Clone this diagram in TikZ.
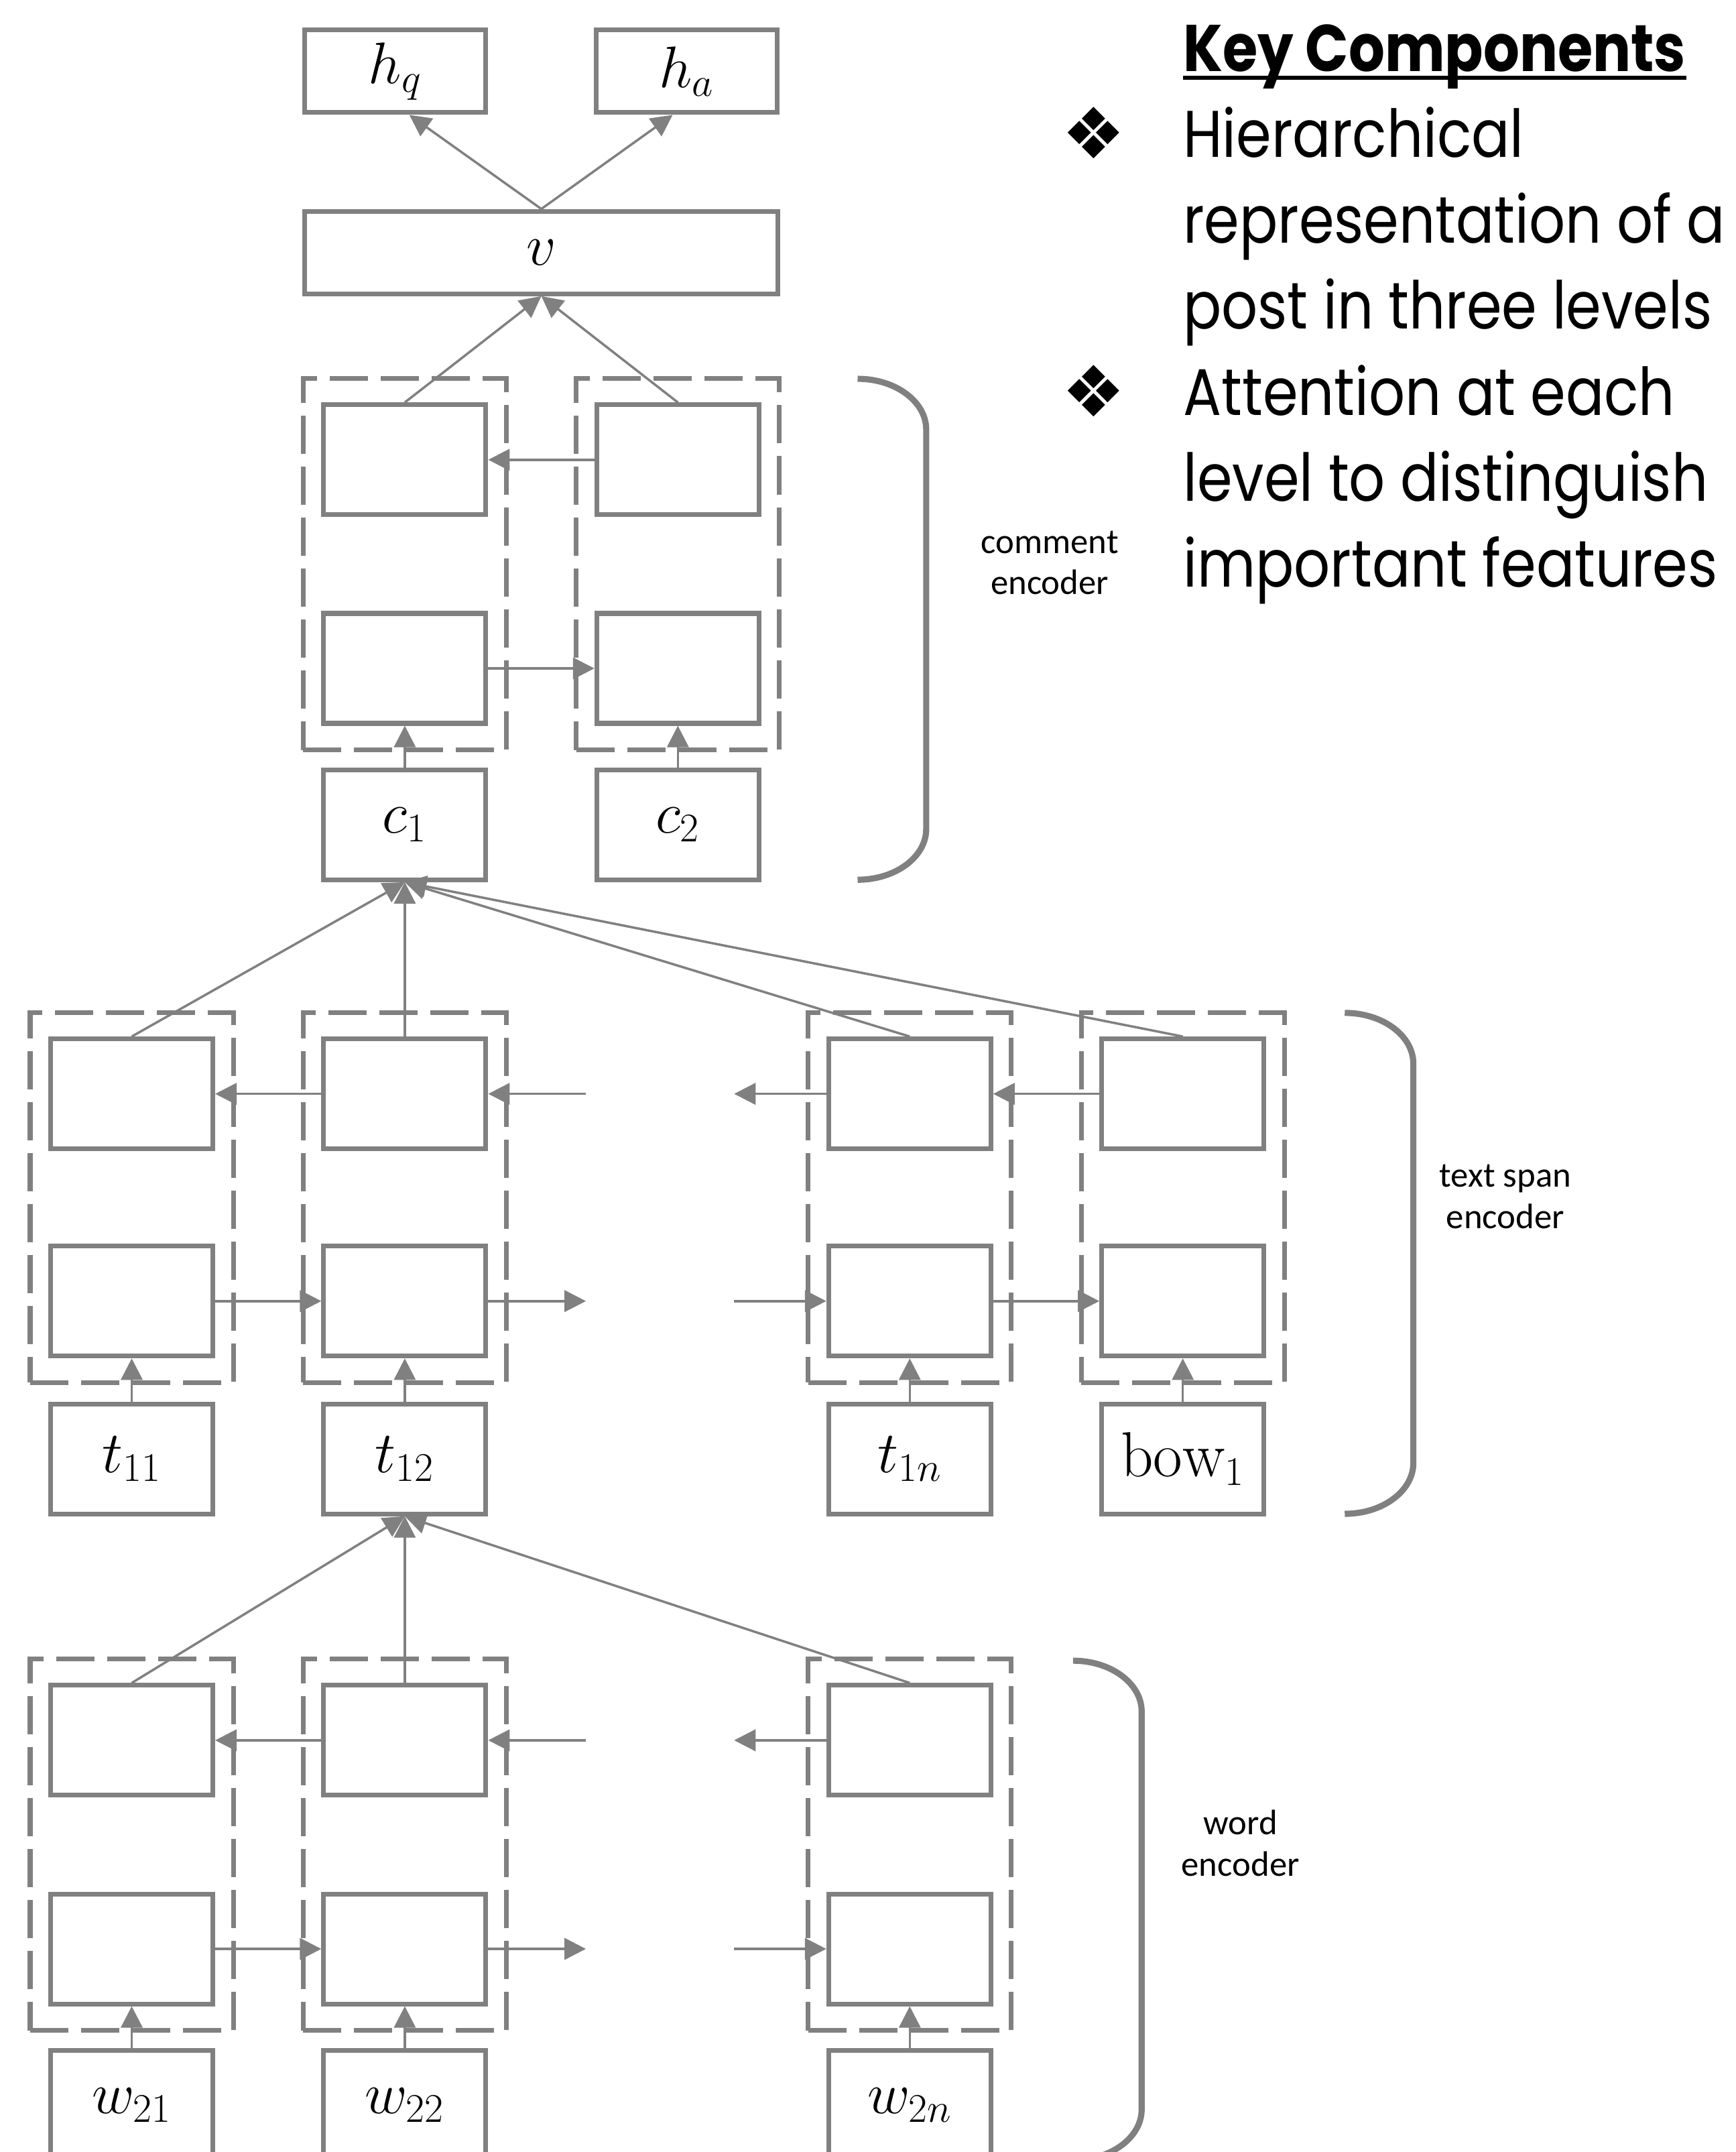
\documentclass[tikz,border=0pt]{standalone}
\usepackage{fontspec}
\usepackage{amsmath}
\usepackage{xcolor}
\usetikzlibrary{arrows.meta,fit,positioning}

\newfontfamily\keyfont[FakeStretch=0.86]{Poppins}
\newfontfamily\labelfont{Carlito}
\newfontfamily\markfont{DejaVu Sans}
\definecolor{linegray}{HTML}{808080}

\tikzset{
  cell/.style={draw=linegray, line width=2pt, minimum width=2.42cm, minimum height=1.64cm,
    inner sep=0pt, font=\fontsize{27}{32}\selectfont},
  wrap/.style={draw=linegray, line width=2pt, dash pattern=on 0.57cm off 0.19cm,
    inner xsep=0.27cm, inner ysep=0.36cm},
  link/.style={draw=linegray, line width=1pt, -{Triangle[length=0.32cm,width=0.32cm]}},
  brace/.style={draw=linegray, line width=2.6pt},
  enclabel/.style={align=center, font=\labelfont\fontsize{15}{17.5}\selectfont},
  keytext/.style={inner sep=0pt, anchor=base west, font=\keyfont\fontsize{28}{34}\selectfont},
  keymark/.style={inner sep=0pt, font=\markfont\fontsize{30}{34}\selectfont}
}

\begin{document}
\begin{tikzpicture}[x=0.2047cm, y=-0.2047cm]
  \useasboundingbox (0,0) rectangle (126.5,156.8);
  \clip (0,0) rectangle (126.5,156.8);

  % output layer
  \node[cell, minimum width=2.70cm, minimum height=1.23cm] (hq) at (28.8,5.2) {$h_q$};
  \node[cell, minimum width=2.70cm, minimum height=1.23cm] (ha) at (50.05,5.2) {$h_a$};
  \node[cell, minimum width=7.06cm, minimum height=1.23cm] (v) at (39.45,18.4) {$v$};
  \draw[link] (v.north) -- (hq.-72);
  \draw[link] (v.north) -- (ha.-108);

  % comment encoder
  \foreach \col/\x in {1/29.5, 2/49.4} {
    \node[cell] (cu\col) at (\x,33.5) {};
    \node[cell] (cl\col) at (\x,48.7) {};
    \node[cell] (c\col) at (\x,60.1) {$c_\col$};
    \node[wrap, fit=(cu\col)(cl\col)] (cw\col) {};
    \draw[link] (c\col) -- (cl\col);
    \draw[link] (cu\col.north) -- (v.south);
  }
  \draw[link] (cu2.west) -- (cu1.east);
  \draw[link] (cl1.east) -- (cl2.west);

  % text span encoder
  \foreach \col/\x/\lab in {1/9.6/t_{11}, 2/29.5/t_{12}, 3/66.3/t_{1n}, 4/86.2/\mathrm{bow}_1} {
    \node[cell] (su\col) at (\x,79.7) {};
    \node[cell] (sl\col) at (\x,94.8) {};
    \node[cell] (t\col) at (\x,106.3) {$\lab$};
    \node[wrap, fit=(su\col)(sl\col)] (sw\col) {};
    \draw[link] (t\col) -- (sl\col);
    \draw[link] (su\col.north) -- (c1.south);
  }
  \coordinate (sgapin) at (42.7,79.7);
  \coordinate (sgapout) at (53.5,79.7);
  \coordinate (sgapend) at (42.7,94.8);
  \coordinate (sgapstart) at (53.5,94.8);
  \draw[link] (su2.west) -- (su1.east);
  \draw[link] (sgapin) -- (su2.east);
  \draw[link] (su3.west) -- (sgapout);
  \draw[link] (su4.west) -- (su3.east);
  \draw[link] (sl1.east) -- (sl2.west);
  \draw[link] (sl2.east) -- (sgapend);
  \draw[link] (sgapstart) -- (sl3.west);
  \draw[link] (sl3.east) -- (sl4.west);

  % word encoder
  \foreach \col/\x/\lab in {1/9.6/w_{21}, 2/29.5/w_{22}, 3/66.3/w_{2n}} {
    \node[cell] (wu\col) at (\x,126.8) {};
    \node[cell] (wl\col) at (\x,142.0) {};
    \node[cell] (w\col) at (\x,153.4) {$\lab$};
    \node[wrap, fit=(wu\col)(wl\col)] (ww\col) {};
    \draw[link] (w\col) -- (wl\col);
    \draw[link] (wu\col.north) -- (t2.south);
  }
  \coordinate (wgapin) at (42.7,126.8);
  \coordinate (wgapout) at (53.5,126.8);
  \coordinate (wgapend) at (42.7,142.0);
  \coordinate (wgapstart) at (53.5,142.0);
  \draw[link] (wu2.west) -- (wu1.east);
  \draw[link] (wgapin) -- (wu2.east);
  \draw[link] (wu3.west) -- (wgapout);
  \draw[link] (wl1.east) -- (wl2.west);
  \draw[link] (wl2.east) -- (wgapend);
  \draw[link] (wgapstart) -- (wl3.west);

  % braces and their labels
  \foreach \bx/\by/\ey in {62.5/27.6/64.1, 98.0/73.8/110.3, 78.2/121.0/157.4}
    \draw[brace] (\bx,\by) .. controls (\bx+2.76,\by) and (\bx+5,\by+1.66) .. (\bx+5,\by+3.7)
      -- (\bx+5,\ey-3.7) .. controls (\bx+5,\ey-1.66) and (\bx+2.76,\ey) .. (\bx,\ey);
  \node[enclabel] (commentlab) at (76.5,41.0) {comment\\encoder};
  \node[enclabel] (spanlab) at (109.7,87.2) {text span\\encoder};
  \node[enclabel] (wordlab) at (90.4,134.3) {word\\encoder};

  % key components
  \node[keytext, font=\keyfont\bfseries\fontsize{28}{34}\selectfont] (keyhead) at (86.2,5.2) {Key Components};
  \draw[line width=1.7pt] ([yshift=-0.1cm]keyhead.base west) -- ([yshift=-0.1cm]keyhead.base east);
  \node[keymark] (mark1) at (79.7,9.7) {❖};
  \node[keymark] (mark2) at (79.7,28.5) {❖};
  \foreach \txt [count=\i] in {Hierarchical, representation of a, post in three levels,
      Attention at each, level to distinguish, important features}
    \node[keytext] (keyline\i) at (86.2,{5.2+6.26*\i}) {\txt};
\end{tikzpicture}
\end{document}
